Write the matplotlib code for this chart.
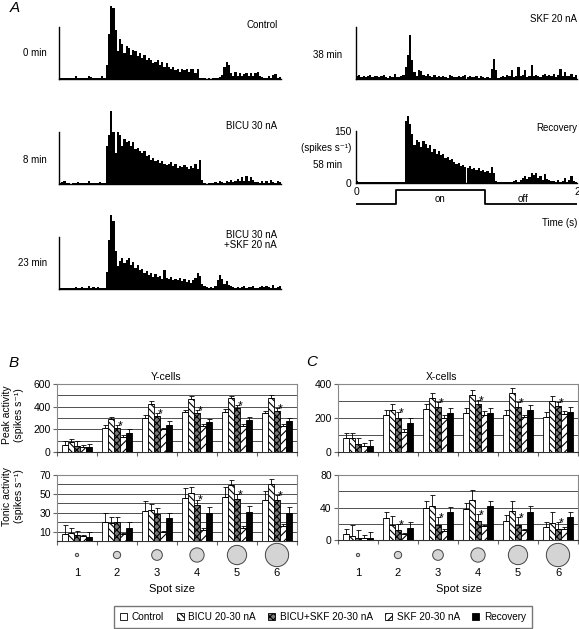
import numpy as np
import matplotlib
matplotlib.use("Agg")
import matplotlib.pyplot as plt
from matplotlib.patches import Patch

plt.rcParams['font.family'] = ['Liberation Sans', 'DejaVu Sans']
plt.rcParams['hatch.linewidth'] = 0.8

# ---------------- data ----------------
bin_w = 0.02  # s
stim_on, stim_off = 0.36, 1.17

psth_control = [3, 2, 3, 2, 3, 2, 3, 8, 3, 2, 3, 2, 4, 8, 5, 2, 3, 2, 3, 10, 4,
                40, 130, 212, 205, 140, 80, 115, 100, 75, 95, 90, 70, 85, 80, 65, 75, 60, 70, 55, 60,
                55, 45, 50, 55, 40, 50, 35, 45, 35, 30, 35, 25, 30, 20, 28, 25, 28, 20, 28, 30, 18, 28,
                3, 2, 2, 1, 2, 1, 2, 4, 3, 5,
                12, 35, 48, 40, 18, 8, 20, 10, 18, 8, 15, 18, 8, 18, 10, 18, 20, 8, 5, 3, 4, 10, 3, 12, 15, 3, 5]
psth_bicu = [2, 5, 8, 3, 2, 1, 3, 2, 6, 3, 2, 3, 2, 8, 3, 2, 2, 3, 5, 3, 2,
             110, 140, 212, 150, 90, 150, 140, 110, 130, 120, 125, 110, 120, 100, 105, 95, 90, 95, 80, 85,
             70, 75, 65, 70, 60, 66, 58, 55, 57, 64, 52, 58, 46, 52, 48, 55, 48, 43, 52, 47, 58, 44, 70, 12,
             2, 1, 2, 3, 2, 5, 3, 8, 5, 4, 10, 6, 12, 5, 8, 15, 8, 20, 10, 22, 8, 20, 12, 6, 5, 3, 8, 3, 10,
             4, 12, 6, 3, 10, 5]
psth_bicu_skf = [3, 4, 2, 3, 2, 3, 2, 6, 3, 2, 5, 3, 4, 8, 3, 5, 2, 6, 3, 4, 3,
                 50, 140, 214, 195, 110, 66, 80, 90, 75, 85, 88, 70, 78, 60, 68, 55, 58, 45, 52, 40,
                 46, 35, 42, 35, 38, 30, 56, 32, 28, 36, 26, 30, 25, 32, 22, 28, 20, 26, 18, 25, 33, 46, 38, 15,
                 8, 5, 3, 6, 4, 8, 25, 40, 30, 15, 22, 12, 8, 5, 4, 6, 3, 5, 8, 4, 6, 5, 8, 4, 3, 6, 10, 5, 8,
                 6, 4, 12, 3, 5, 8]
psth_skf = [8, 12, 5, 10, 6, 8, 12, 5, 8, 10, 6, 9, 12, 6, 4, 8, 6, 15, 5, 6, 8, 12,
            35, 70, 126, 55, 20, 10, 25, 22, 12, 8, 15, 8, 5, 12, 6, 8, 5, 10, 6, 4, 12, 8, 5, 6,
            10, 5, 8, 12, 6, 10, 5, 6, 8, 4, 10, 6, 3, 5, 4, 30, 58, 25, 4, 6, 10, 5, 12, 8, 25, 6,
            10, 35, 8, 12, 25, 6, 10, 40, 8, 12, 10, 5, 12, 15, 10, 12, 8, 15, 6, 12, 30, 10, 20, 8,
            10, 15, 6, 12]
psth_recovery = [5, 3, 4, 3, 3, 2, 3, 4, 3, 2, 3, 4, 3, 2, 3, 4, 3, 3, 2, 3, 4, 3,
                 180, 193, 170, 140, 110, 125, 118, 105, 120, 112, 100, 110, 90, 98, 85, 92, 80, 85,
                 72, 75, 65, 68, 60, 55, 58, 50, 52, 45, 42, 48, 40, 44, 38, 42, 35, 38, 32, 34, 28, 46, 30, 5,
                 3, 4, 2, 3, 4, 3, 2, 5, 8, 4, 10, 15, 20, 12, 18, 30, 22, 28, 15, 20, 10, 25, 12, 8, 5, 6,
                 3, 10, 4, 6, 15, 3, 8, 20, 6, 4]

conditions = ['Control', 'BICU 20-30 nA', 'BICU+SKF 20-30 nA', 'SKF 20-30 nA', 'Recovery']
spot_sizes = [1, 2, 3, 4, 5, 6]
spot_diam_px = [3.3, 7.3, 10.7, 14.3, 19.3, 23.3]

# rows = spot size, cols = condition
y_peak = [[65, 90, 55, 45, 40], [210, 290, 215, 135, 170], [300, 420, 315, 200, 235],
          [355, 465, 345, 230, 265], [355, 475, 385, 230, 280], [345, 475, 365, 230, 275]]
y_peak_err = [[35, 25, 40, 20, 30], [25, 20, 25, 15, 30], [25, 30, 25, 15, 35],
              [20, 25, 25, 15, 25], [25, 20, 30, 15, 25], [20, 30, 25, 15, 25]]
y_tonic = [[7, 8, 6, 5, 4], [20, 19, 20, 7, 14], [32, 33, 29, 10, 24],
           [46, 51, 38, 12, 30], [47, 59, 45, 14, 31], [43, 60, 44, 16, 30]]
y_tonic_err = [[10, 6, 5, 1, 6], [10, 6, 5, 2, 6], [10, 6, 6, 1, 6],
               [10, 6, 6, 2, 6], [10, 6, 5, 2, 6], [10, 6, 5, 2, 6]]
x_peak = [[85, 80, 50, 35, 38], [215, 250, 200, 120, 168], [255, 320, 265, 200, 230],
          [230, 335, 280, 220, 228], [220, 345, 265, 205, 245], [205, 300, 270, 225, 235]]
x_peak_err = [[28, 30, 30, 20, 32], [30, 30, 35, 15, 30], [30, 30, 30, 15, 30],
              [30, 30, 25, 20, 30], [28, 30, 30, 15, 30], [30, 30, 25, 15, 30]]
x_tonic = [[7, 5, 3, 3, 3], [27, 19, 12, 7, 15], [40, 42, 19, 11, 34],
           [38, 49, 23, 17, 42], [24, 36, 19, 12, 35], [16, 21, 13, 13, 28]]
x_tonic_err = [[7, 13, 9, 3, 7], [7, 11, 8, 2, 7], [8, 13, 9, 2, 7],
               [7, 13, 9, 2, 6], [7, 12, 9, 2, 7], [6, 13, 9, 3, 7]]
star_y_peak = [2, 3, 4, 5, 6]
star_y_tonic = [4, 5, 6]
star_x_peak = [2, 3, 4, 5, 6]
star_x_tonic = [2, 3, 4, 5, 6]

# ---------------- figure ----------------
W, H = 579, 629
fig = plt.figure(figsize=(W / 100, H / 100), dpi=100)


def px_axes(x0, y0, x1, y1):
    return fig.add_axes([x0 / W, 1 - y1 / H, (x1 - x0) / W, (y1 - y0) / H])


def ftext(x, y, s, **kw):
    kw.setdefault('fontsize', 7)
    kw.setdefault('va', 'center')
    fig.text(x / W, 1 - y / H, s, **kw)


def psth(x0, x1, ybase, counts):
    h = 52 / 150 * 220
    ax = px_axes(x0, ybase - h, x1, ybase)
    t = np.arange(len(counts)) * bin_w
    ax.bar(t, counts, width=bin_w, align='edge', color='black', linewidth=0)
    ax.set_xlim(0, 2)
    ax.set_ylim(0, 220)
    for s in ['top', 'right']:
        ax.spines[s].set_visible(False)
    ax.spines['left'].set_bounds(0, 150)
    ax.spines['left'].set_linewidth(1)
    ax.spines['bottom'].set_linewidth(1)
    ax.set_xticks([])
    ax.set_yticks([])
    ax.patch.set_alpha(0)
    return ax


psth(59, 281, 79, psth_control)
psth(59, 281, 184, psth_bicu)
psth(59, 281, 289, psth_bicu_skf)
psth(356, 577, 79, psth_skf)
ax_rec = psth(356, 577, 183, psth_recovery)
ax_rec.set_yticks([0, 150])
ax_rec.set_xticks([0, 2])
ax_rec.tick_params(length=0, labelsize=7.5, pad=3)

ftext(15, 8, 'A', fontsize=11, style='italic', ha='center')
ftext(278, 25, 'Control', ha='right')
ftext(277, 126, 'BICU 30 nA', ha='right')
ftext(277, 240, 'BICU 30 nA\n+SKF 20 nA', ha='right', linespacing=1.0)
ftext(577, 19, 'SKF 20 nA', ha='right')
ftext(577, 128, 'Recovery', ha='right')
ftext(47, 53, '0 min', ha='right')
ftext(47, 160, '8 min', ha='right')
ftext(47, 263, '23 min', ha='right')
ftext(342, 55, '38 min', ha='right')
ftext(342, 165, '58 min', ha='right')
ftext(351, 148, '(spikes s⁻¹)', ha='right')

# stimulus trace
ax_st = px_axes(356, 188, 577, 206)
ax_st.plot([0, stim_on, stim_on, stim_off, stim_off, 2], [0, 0, 1, 1, 0, 0], color='black', lw=1.3)
ax_st.set_xlim(0, 2)
ax_st.set_ylim(-0.15, 1.15)
ax_st.axis('off')
ftext(440, 199, 'on', ha='center')
ftext(523, 199, 'off', ha='center')
ftext(577, 223, 'Time (s)', ha='right')

# ---------------- bar charts ----------------
faces = ['white', 'white', '#7a7a7a', 'white', 'black']
hatches = [None, '\\\\\\\\\\', 'xxxxx', '////', None]
bw = 0.15
offsets = (np.arange(5) - 2) * bw


def bar_panel(box, vals, errs, stars, ymax, labeled, gridstep):
    ax = px_axes(*box)
    vals = np.array(vals, float)
    errs = np.array(errs, float)
    cats = np.array(spot_sizes, float)
    for j in range(5):
        x = cats + offsets[j]
        ax.bar(x, vals[:, j], width=bw, facecolor=faces[j], edgecolor='black',
               hatch=hatches[j], linewidth=0.6, zorder=3)
        ax.errorbar(x, vals[:, j], yerr=[np.zeros(6), errs[:, j]], fmt='none',
                    ecolor='black', elinewidth=0.6, capsize=1.8, capthick=0.6, zorder=4)
    for g in stars:
        i = g - 1
        ax.text(cats[i] + offsets[2] + 0.07, vals[i, 2] + errs[i, 2] - ymax * 0.02, '*',
                fontsize=9, ha='center', va='center', zorder=5)
    ax.set_xlim(0.5, 6.5)
    ax.set_ylim(0, ymax)
    ax.set_yticks(labeled)
    ax.set_yticks(np.arange(0, ymax + 1, gridstep), minor=True)
    ax.grid(True, which='both', axis='y', color='#333333', lw=0.6)
    ax.set_axisbelow(True)
    ax.tick_params(axis='y', which='minor', length=0)
    ax.tick_params(axis='y', which='major', length=3, labelsize=7.5, pad=1.5, color='#666666')
    ax.set_xticks(np.arange(0.5, 6.6, 1))
    ax.set_xticklabels([])
    ax.tick_params(axis='x', length=3, color='#666666')
    for s in ['top', 'right', 'left']:
        ax.spines[s].set_color('#888888')
        ax.spines[s].set_linewidth(0.8)
    ax.spines['bottom'].set_color('#333333')
    return ax


bar_panel((57, 384, 297, 452), y_peak, y_peak_err, star_y_peak, 600, [0, 200, 400, 600], 100)
axyt = bar_panel((57, 475, 297, 541), y_tonic, y_tonic_err, star_y_tonic, 70, [10, 30, 50, 70], 10)
bar_panel((338, 384, 578, 452), x_peak, x_peak_err, star_x_peak, 400, [0, 200, 400], 100)
axxt = bar_panel((338, 475, 578, 540), x_tonic, x_tonic_err, star_x_tonic, 80, [0, 40, 80], 20)

for ax, x0, x1, y1 in [(axyt, 57, 297, 541), (axxt, 338, 578, 540)]:
    hpx = y1 - 475
    tr = ax.get_xaxis_transform()
    ax.scatter(spot_sizes, [-(555 - y1) / hpx] * 6, s=[(d * 0.72) ** 2 for d in spot_diam_px],
               transform=tr, clip_on=False, facecolor='#d4d4d4', edgecolor='#444444', linewidths=0.7)
    for k in spot_sizes:
        ax.text(k, -(573 - y1) / hpx, str(k), transform=tr, ha='center', va='center', fontsize=8)

ftext(172, 589, 'Spot size', ha='center', fontsize=8)
ftext(459, 589, 'Spot size', ha='center', fontsize=8)

ftext(14, 363, 'B', fontsize=11, style='italic', ha='center')
ftext(312, 362, 'C', fontsize=11, style='italic', ha='center')
ftext(166, 377, 'Y-cells', ha='center', fontsize=7.5)
ftext(442, 377, 'X-cells', ha='center', fontsize=7.5)
ftext(13, 415, 'Peak activity\n(spikes s⁻¹)', ha='center', rotation=90, fontsize=7.5, linespacing=1.3)
ftext(13, 496, 'Tonic activity\n(spikes s⁻¹)', ha='center', rotation=90, fontsize=7.5, linespacing=1.3)

handles = [Patch(facecolor=faces[j], edgecolor='black', hatch=hatches[j], linewidth=0.6, label=conditions[j])
           for j in range(5)]
fig.legend(handles=handles, loc='center', bbox_to_anchor=(323 / W, 1 - 617 / H), ncol=5, fontsize=7.2,
           frameon=True, fancybox=False, edgecolor='#555555', handlelength=0.7, handleheight=0.7,
           handletextpad=0.45, columnspacing=1.25, borderpad=0.6)

fig.savefig('out.png', dpi=100)
